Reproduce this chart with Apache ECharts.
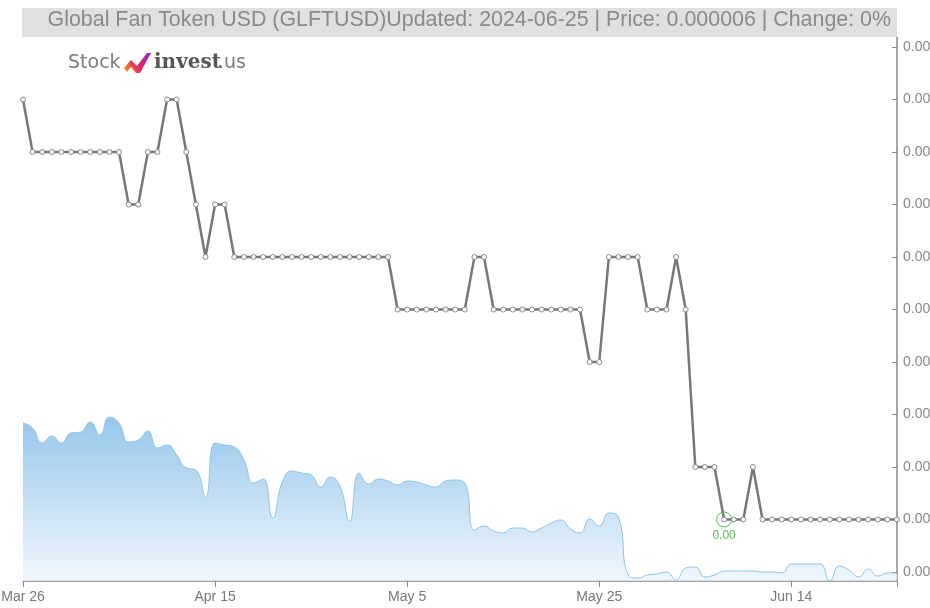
<!DOCTYPE html>
<html>
<head>
<meta charset="utf-8">
<style>
html,body{margin:0;padding:0;background:#fff;}
#chart{width:930px;height:608px;}
</style>
<script src="https://cdn.jsdelivr.net/npm/echarts@6/dist/echarts.min.js"></script>
</head>
<body>
<div id="chart"></div>
<script>
// ---- data ----
var startDate = [2024, 2, 26]; // Mar 26 2024 (month 0-based)
var dayCount = 92;
var categories = [];
(function () {
  var d = new Date(startDate[0], startDate[1], startDate[2]);
  for (var i = 0; i < dayCount; i++) {
    var y = d.getFullYear(), m = d.getMonth() + 1, dd = d.getDate();
    categories.push(y + '-' + (m < 10 ? '0' : '') + m + '-' + (dd < 10 ? '0' : '') + dd);
    d.setDate(d.getDate() + 1);
  }
})();
var monthNames = ['Jan','Feb','Mar','Apr','May','Jun','Jul','Aug','Sep','Oct','Nov','Dec'];

// price in units of 1e-7 USD
var priceScale = 1e-7;
var price = [
  68,67,67,67,67,67,67,67,67,67,67,66,66,67,67,68,68,67,66,65,
  66,66,65,65,65,65,65,65,65,65,65,65,65,65,65,65,65,65,65,64,
  64,64,64,64,64,64,64,65,65,64,64,64,64,64,64,64,64,64,64,63,
  63,65,65,65,65,64,64,64,65,64,61,61,61,60,60,60,61,60,60,60,
  60,60,60,60,60,60,60,60,60,60,60,60
];
// volume (relative units)
var volume = [
  158,153,138,145,138,148,149,159,146,164,158,139,141,150,133,136,126,113,111,84,
  138,136,134,121,98,102,63,99,110,108,106,94,104,95,60,108,97,102,100,96,
  100,99,96,94,100,101,98,51,55,50,48,53,53,49,53,58,61,52,48,62,
  55,68,64,6,3,6,7,9,1,13,14,4,6,10,10,10,10,9,9,8,
  17,17,17,17,0,15,11,4,12,5,8,8
];
var yMin = 59, yMax = 69, yInterval = 1;
var volMax = 544;

var titleText = 'Global Fan Token USD (GLFTUSD)Updated: 2024-06-25 | Price: 0.000006 | Change: 0%';

var chart = echarts.init(document.getElementById('chart'), null, {renderer: 'canvas'});
var font = 'Liberation Sans, Arial, sans-serif';

var option = {
  animation: false,
  backgroundColor: '#ffffff',
  graphic: [
    {type: 'rect', shape: {x: 22, y: 8, width: 875, height: 29}, style: {fill: '#e0e0e0'}, z: 1},
    {type: 'text', right: 39, top: 10, style: {text: titleText, fill: '#8a8a8a', font: '21.4px ' + font}, z: 2},
    {type: 'text', left: 68, top: 54, style: {text: 'Stock', fill: '#7a7a7a', font: '19px "DejaVu Sans", sans-serif'}, z: 2},
    {type: 'polygon', shape: {points: [[124,68],[131,60],[137,66],[147,53],[151,53],[140,73],[136,73],[131,67],[127,72]]},
      style: {fill: new echarts.graphic.LinearGradient(0, 1, 1, 0, [{offset: 0, color: '#f5a623'}, {offset: 0.45, color: '#e8245c'}, {offset: 1, color: '#8b2fc9'}])}, z: 2},
    {type: 'text', left: 154, top: 53, style: {text: 'invest', fill: '#555555', font: 'bold 20px "DejaVu Serif", serif'}, z: 2},
    {type: 'text', left: 218, top: 54, style: {text: '.us', fill: '#7a7a7a', font: '19px "DejaVu Sans", sans-serif'}, z: 2}
  ],
  grid: [
    {left: 23, right: 33, top: 47, bottom: 36, containLabel: false, outerBoundsMode: 'none'},
    {left: 23, right: 33, top: 37, bottom: 27, containLabel: false, outerBoundsMode: 'none'}
  ],
  xAxis: [
    {type: 'category', gridIndex: 0, data: categories, boundaryGap: false, show: false},
    {type: 'category', gridIndex: 1, data: categories, boundaryGap: false,
      axisLine: {lineStyle: {color: '#888', width: 1.5}},
      axisTick: {length: 6, lineStyle: {color: '#888'}, interval: function (i) { return i % 20 === 0 || i === dayCount - 1; }},
      axisLabel: {interval: function (i) { return i % 20 === 0; }, color: '#777', fontSize: 14, fontFamily: font, margin: 9,
        alignMinLabel: 'center', alignMaxLabel: 'center', hideOverlap: false,
        formatter: function (v) { var p = v.split('-'); return monthNames[+p[1] - 1] + ' ' + (+p[2]); }},
      splitLine: {show: false}
    }
  ],
  yAxis: [
    {type: 'value', gridIndex: 0, position: 'right', min: yMin, max: yMax, interval: yInterval,
      axisLine: {show: false},
      axisTick: {show: true, inside: true, length: 5, lineStyle: {color: '#888'}},
      axisLabel: {color: '#888', fontSize: 14, fontFamily: font, margin: 6,
        formatter: function (v) { return (v * priceScale).toFixed(7); }},
      splitLine: {show: false}
    },
    {type: 'value', gridIndex: 1, position: 'right', min: 0, max: volMax,
      axisLine: {show: true, lineStyle: {color: '#888', width: 1.5}},
      axisTick: {show: false}, axisLabel: {show: false}, splitLine: {show: false}
    }
  ],
  series: [
    {type: 'line', xAxisIndex: 1, yAxisIndex: 1, data: volume, smooth: true, symbol: 'none', z: 1,
      lineStyle: {color: '#8cc4ec', width: 1},
      areaStyle: {color: new echarts.graphic.LinearGradient(0, 0, 0, 1, [{offset: 0, color: '#6aafe2'}, {offset: 1, color: '#eaf3fb'}])}
    },
    {type: 'line', xAxisIndex: 0, yAxisIndex: 0, data: price, z: 3,
      symbol: 'circle', symbolSize: 5, showSymbol: true,
      lineStyle: {color: '#777', width: 2.5},
      itemStyle: {color: '#fff', borderColor: '#888', borderWidth: 1},
      markPoint: {
        symbol: 'circle', symbolSize: 15,
        itemStyle: {color: 'rgba(0,0,0,0)', borderColor: '#5cb85c', borderWidth: 1},
        label: {show: true, position: 'bottom', distance: 2, color: '#5cb85c', fontSize: 12, fontFamily: font,
          formatter: function (p) { return (p.value * priceScale).toFixed(2); }},
        data: [{type: 'min'}]
      }
    }
  ]
};
chart.setOption(option);
</script>
</body>
</html>
